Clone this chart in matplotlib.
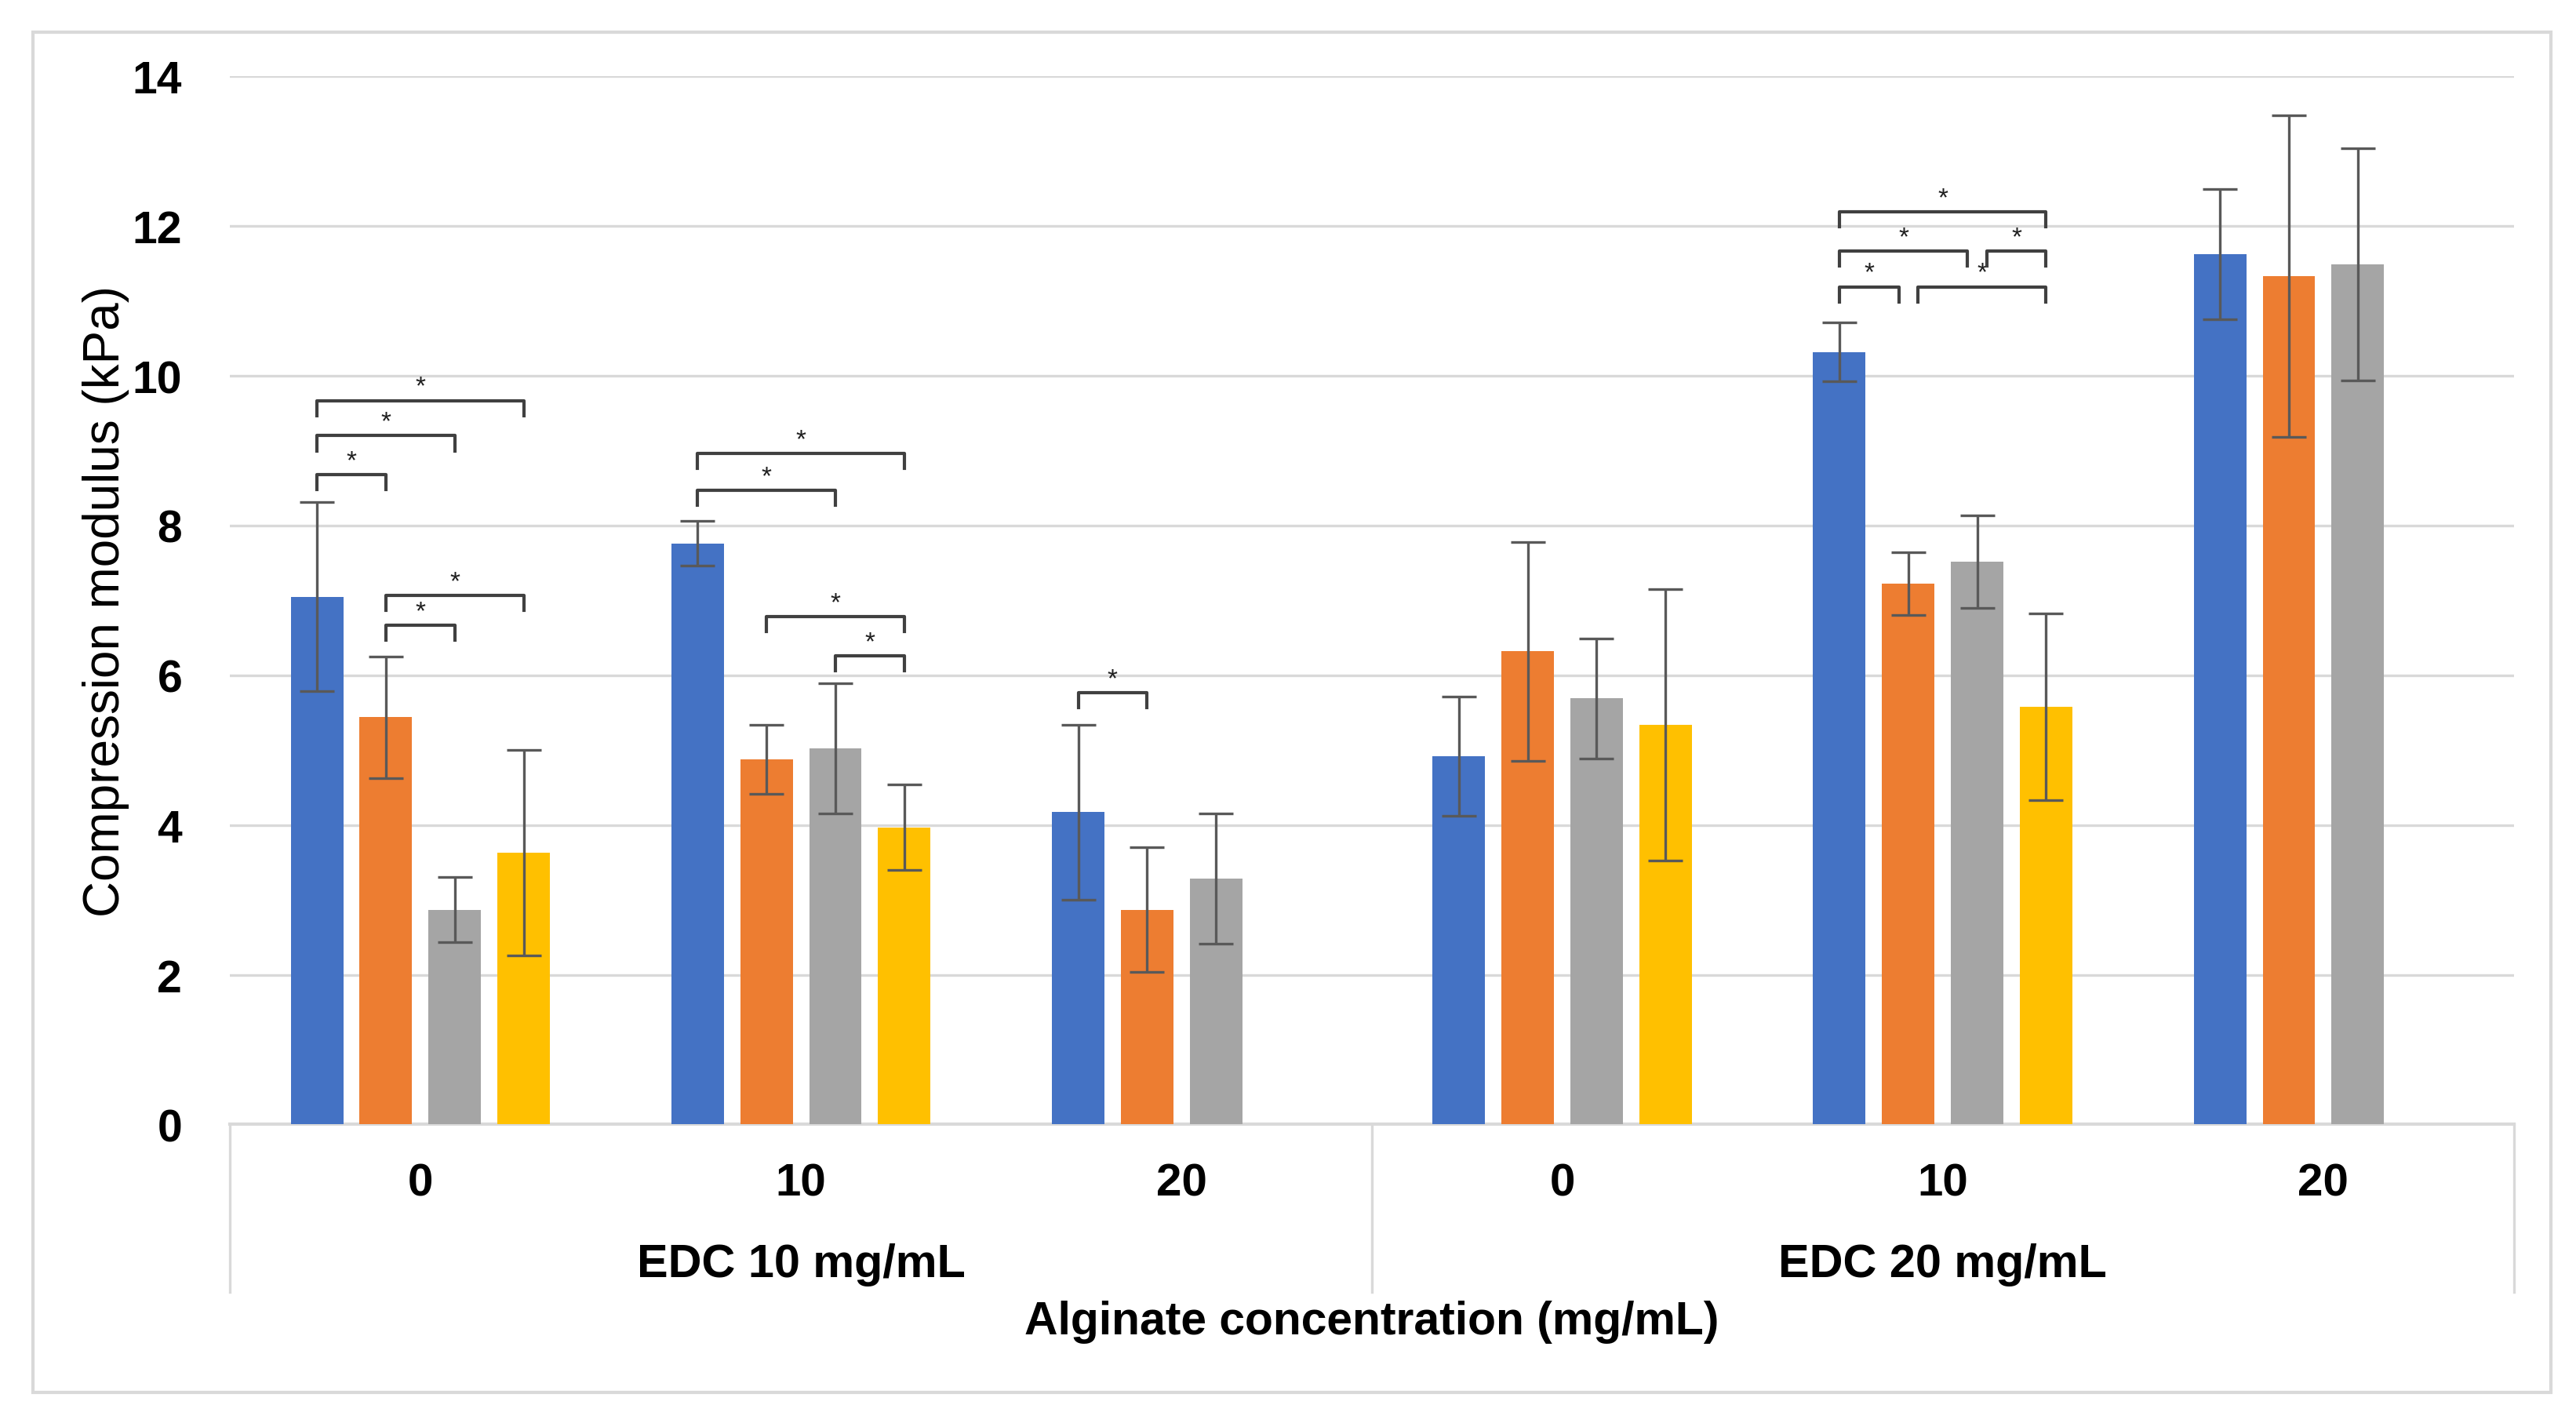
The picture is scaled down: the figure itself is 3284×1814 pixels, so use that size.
# Balkendiagramm Druckmodul mit Fehlerbalken und Signifikanzklammern
import numpy as np
import matplotlib
matplotlib.use('Agg')
import matplotlib.pyplot as plt
from matplotlib.patches import Rectangle

plt.rcParams['font.family'] = ['Liberation Sans', 'DejaVu Sans']

# Daten
alginat = ['0', '10', '20', '0', '10', '20']
edc_gruppen = ['EDC 10 mg/mL', 'EDC 20 mg/mL']
farben = ['#4472C4', '#ED7D31', '#A5A5A5', '#FFC000']

blau = [7.05, 7.76, 4.17, 4.92, 10.32, 11.63]
orange = [5.44, 4.88, 2.87, 6.32, 7.22, 11.33]
grau = [2.87, 5.02, 3.28, 5.69, 7.52, 11.49]
gelb = [3.63, 3.97, np.nan, 5.34, 5.58, np.nan]

blau_err = [1.26, 0.30, 1.17, 0.80, 0.39, 0.87]
orange_err = [0.81, 0.46, 0.83, 1.46, 0.42, 2.15]
grau_err = [0.43, 0.87, 0.87, 0.80, 0.62, 1.55]
gelb_err = [1.37, 0.57, np.nan, 1.81, 1.25, np.nan]

# Signifikanz: (Gruppe, Balken a, Balken b, Hoehe)
klammern = [
    (0, 0, 1, 8.68), (0, 0, 2, 9.20), (0, 0, 3, 9.67),
    (0, 1, 2, 6.67), (0, 1, 3, 7.07),
    (1, 0, 2, 8.47), (1, 0, 3, 8.96), (1, 2, 3, 6.26), (1, 1, 3, 6.78),
    (2, 0, 1, 5.77),
    (4, 0, 1, 11.19), (4, 1, 3, 11.19), (4, 0, 2, 11.67), (4, 2, 3, 11.67),
    (4, 0, 3, 12.19),
]

werte = [blau, orange, grau, gelb]
fehler = [blau_err, orange_err, grau_err, gelb_err]

fig = plt.figure(figsize=(16.42, 9.075), dpi=200)
ax = fig.add_axes([0.0893, 0.2097, 0.8865, 0.7361])

# Rahmen um das ganze Diagramm
fig.patches.append(Rectangle((0.0128, 0.0216), 0.9776, 0.9554, transform=fig.transFigure,
                             fill=False, edgecolor='#D9D9D9', linewidth=1.5))

x = np.arange(len(alginat))
abstand = 0.181
breite = 0.138
offsets = (np.arange(4) - 1.5) * abstand

for k in range(4):
    ax.bar(x + offsets[k], werte[k], breite, color=farben[k], zorder=3)
    ax.errorbar(x + offsets[k], werte[k], yerr=fehler[k], fmt='none', ecolor='#595959',
                elinewidth=1.2, capsize=8, capthick=1.2, zorder=4)

# Klammern zeichnen
tief = 0.2
for g, a, b, h in klammern:
    x1 = g + offsets[a]
    x2 = g + offsets[b]
    # gleiche Zeile, angrenzende Klammern etwas auseinander
    for g2, a2, b2, h2 in klammern:
        if g2 == g and h2 == h and b2 == a:
            x1 += 0.025
        if g2 == g and h2 == h and a2 == b:
            x2 -= 0.025
    ax.plot([x1, x1, x2, x2], [h - tief, h, h, h - tief], color='#404040', lw=1.5, zorder=5)
    ax.text((x1 + x2) / 2, h + 0.02, '*', ha='center', va='bottom', fontsize=12, color='#202020')

ax.set_xlim(-0.5, 5.5)
ax.set_ylim(0, 14)
ax.set_yticks(np.arange(0, 15, 2))
ax.yaxis.grid(True, color='#D9D9D9', lw=1.2, zorder=0)
ax.tick_params(axis='y', length=0, pad=22, labelsize=20.5)
for lab in ax.get_yticklabels():
    lab.set_fontweight('bold')

ax.set_xticks(x)
ax.set_xticklabels([])
for s in ['top', 'right', 'left']:
    ax.spines[s].set_visible(False)
ax.spines['bottom'].set_color('#D9D9D9')
ax.spines['bottom'].set_linewidth(1.5)
ax.tick_params(axis='x', length=0)

# Kategorien, Gruppen und Trennlinien unter der Achse
tr = ax.get_xaxis_transform()
for i, t in enumerate(alginat):
    ax.text(i, -0.056, t, transform=tr, ha='center', va='center', fontsize=21, fontweight='bold')
for j, t in enumerate(edc_gruppen):
    ax.text(3 * j + 1, -0.1333, t, transform=tr, ha='center', va='center', fontsize=21.4,
            fontweight='bold')
for xs in [-0.5, 2.5, 5.5]:
    ax.plot([xs, xs], [0, -0.160], transform=tr, color='#D9D9D9', lw=1.2, clip_on=False)

ax.set_ylabel('Compression modulus (kPa)', fontsize=23)
ax.yaxis.set_label_coords(-0.044, 0.5)
fig.text(0.5325, 0.0712, 'Alginate concentration (mg/mL)', ha='center', va='center',
         fontsize=21.2, fontweight='bold')

plt.savefig('out.png', dpi=200)
